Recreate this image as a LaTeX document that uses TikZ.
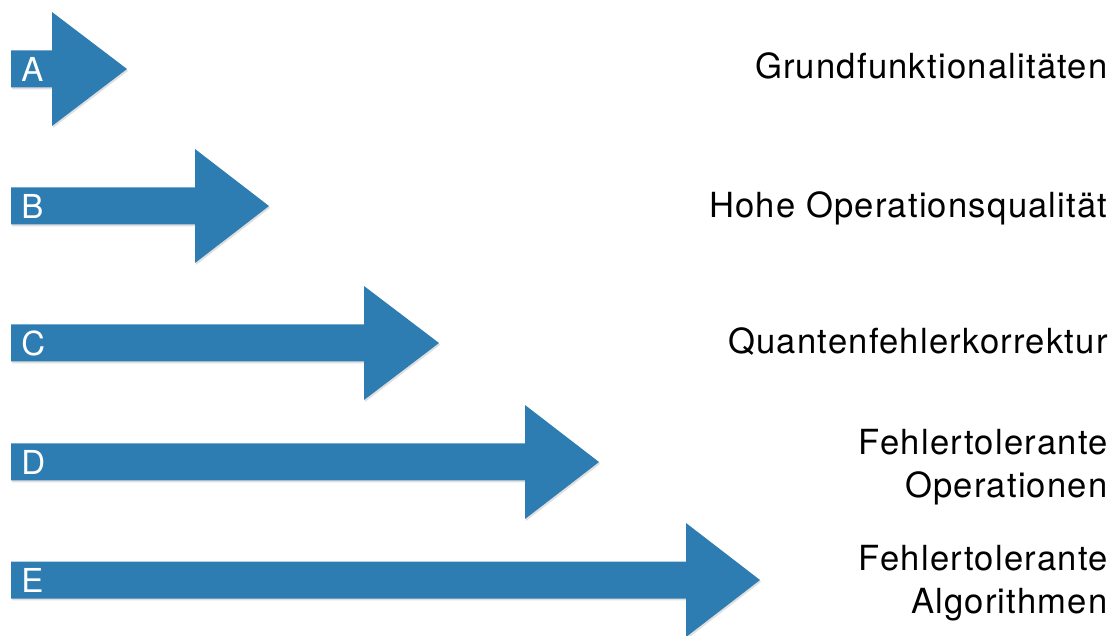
\documentclass[tikz,border=0pt]{standalone}
\usepackage{fontspec}
\setmainfont{TeX Gyre Heros}
\newfontfamily\goalfont{TeX Gyre Heros}[LetterSpace=3.5]
\usetikzlibrary{shadows}
\definecolor{stageblue}{RGB}{46,125,178}

\begin{document}
\begin{tikzpicture}[
        x = 0.5pt, y = -0.5pt,
        mstage/.style = {fill = stageblue, drop shadow = {opacity = 0.25, shadow xshift = 0.6pt, shadow yshift = -0.9pt}},
        mletter/.style = {white, anchor = west, inner sep = 0pt, font = \fontsize{16.5}{18}\selectfont},
        mgoal/.style = {anchor = base east, inner sep = 0pt, font = \goalfont\fontsize{17.3}{21.5}\selectfont},
        mgoalb/.style = {anchor = east, inner sep = 0pt, align = right, font = \goalfont\fontsize{17.3}{21.5}\selectfont}
        ]
    \clip (0,0) rectangle (1115,636);

    % stage arrows: letter / centre line / head base / tip
    \foreach \n/\c/\b/\t in {A/69/52/127, B/206/195/269, C/343/364/439, D/462/525/599, E/580/686/760}
    {
        \fill[mstage] (11,\c-18.5) -- (\b,\c-18.5) -- (\b,\c-57) -- (\t,\c) -- (\b,\c+57) -- (\b,\c+18.5) -- (11,\c+18.5) -- cycle;
        \node[mletter] (L\n) at (21,\c) {\n};
    }

    \node[mgoal] (GA) at (1108,79) {Grundfunktionalitäten};
    \node[mgoal] (GB) at (1108,218) {Hohe Operationsqualität};
    \node[mgoal] (GC) at (1108,354) {Quantenfehlerkorrektur};
    \node[mgoalb] (GD) at (1108,467) {Fehlertolerante\\Operationen};
    \node[mgoalb] (GE) at (1108,583.5) {Fehlertolerante\\Algorithmen};

\end{tikzpicture}
\end{document}
